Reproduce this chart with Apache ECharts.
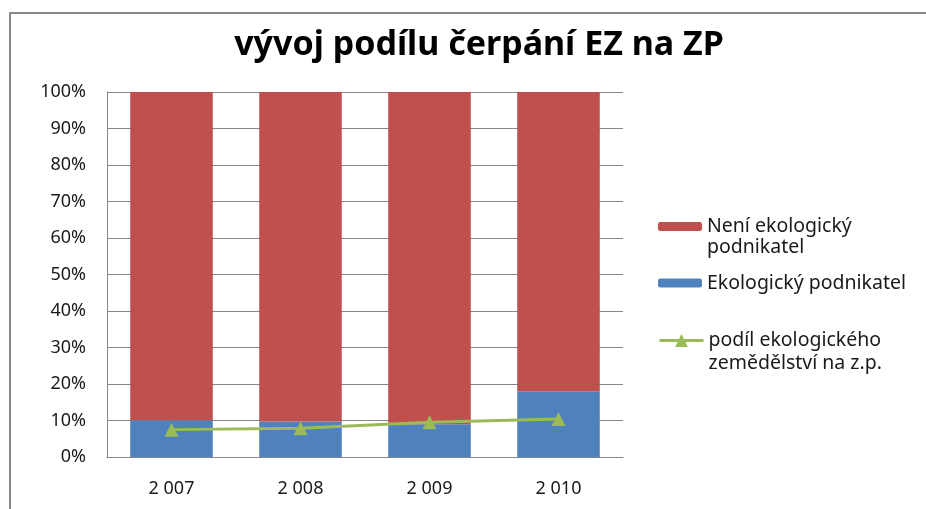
<!DOCTYPE html>
<html>
<head>
<meta charset="utf-8">
<script src="https://cdn.jsdelivr.net/npm/echarts@6/dist/echarts.min.js"></script>
<style>
  body { margin: 0; background: #fff; }
  #frame { position: absolute; left: 9px; top: 12px; width: 1000px; height: 600px;
           border-left: 2px solid #878787; border-top: 2px solid #878787; }
  #main { position: absolute; left: 0; top: 0; }
</style>
</head>
<body>
<div id="frame"></div>
<div id="main" style="width: 926px; height: 494px"></div>
<script>
// kategorie (roky) a hodnoty v %
const years = ['2 007', '2 008', '2 009', '2 010']
const ekoPodnikatel = [10.1, 9.7, 9.0, 18.0]
const neniEko = [89.9, 90.3, 91.0, 82.0]
const podilEkoZem = [7.5, 7.9, 9.5, 10.4]

const fontFam = "'Noto Sans', sans-serif"
const textColor = '#1a1a1a'

const myChart = echarts.init(document.getElementById('main'))

const option = {
  animation: false,
  textStyle: { fontFamily: fontFam },
  title: {
    text: 'vývoj podílu čerpání EZ na ZP',
    left: 474,
    textAlign: 'center',
    top: 23,
    textStyle: { fontFamily: fontFam, fontSize: 34, fontWeight: 'bold', color: '#000' },
  },
  // legenda: prázdný první řádek, aby ikona seděla u prvního řádku textu
  legend: [
    {
      data: ['Není ekologický podnikatel'],
      left: 658,
      top: 195,
      padding: 0,
      itemWidth: 44,
      itemHeight: 9,
      formatter: () => '\nNení ekologický\npodnikatel',
      textStyle: { fontSize: 19.5, color: textColor, lineHeight: 21 },
    },
    {
      data: ['Ekologický podnikatel'],
      left: 658,
      top: 272,
      padding: 0,
      itemWidth: 44,
      itemHeight: 9,
      textStyle: { fontSize: 19.5, color: textColor, lineHeight: 22 },
    },
    {
      data: ['podíl ekologického zemědělství na z.p.'],
      left: 658,
      top: 306,
      padding: 0,
      itemWidth: 44,
      itemHeight: 16,
      formatter: () => '\npodíl ekologického\nzemědělství na z.p.',
      lineStyle: { width: 3 },
      textStyle: { fontSize: 19.5, color: textColor, lineHeight: 23 },
    },
  ],
  grid: {
    left: 107,
    right: 303,
    top: 92,
    bottom: 37,
    outerBoundsMode: 'none', // popisky osy x smí přetéct (jsou oříznuté jako v originále)
  },
  xAxis: {
    type: 'category',
    data: years,
    axisLine: { show: true, lineStyle: { color: '#868686', width: 1 } },
    axisTick: { show: false },
    axisLabel: { margin: 23, fontSize: 18, color: textColor },
  },
  yAxis: {
    type: 'value',
    min: 0,
    max: 100,
    interval: 10,
    axisLine: { show: true, lineStyle: { color: '#868686', width: 1 } },
    axisTick: { show: false },
    axisLabel: { formatter: '{value}%', margin: 21, fontSize: 18, color: textColor },
    splitLine: { lineStyle: { color: '#868686', width: 1 } },
  },
  series: [
    {
      name: 'Ekologický podnikatel',
      type: 'bar',
      stack: 'celkem',
      barWidth: '64%',
      data: ekoPodnikatel,
      itemStyle: { color: '#4F81BD' },
    },
    {
      name: 'Není ekologický podnikatel',
      type: 'bar',
      stack: 'celkem',
      data: neniEko,
      itemStyle: { color: '#C0504D' },
    },
    {
      name: 'podíl ekologického zemědělství na z.p.',
      type: 'line',
      data: podilEkoZem,
      symbol: 'triangle',
      symbolSize: 14,
      z: 5,
      lineStyle: { color: '#9BBB59', width: 3 },
      itemStyle: { color: '#9BBB59' },
    },
  ],
}

myChart.setOption(option, true)
</script>
</body>
</html>
